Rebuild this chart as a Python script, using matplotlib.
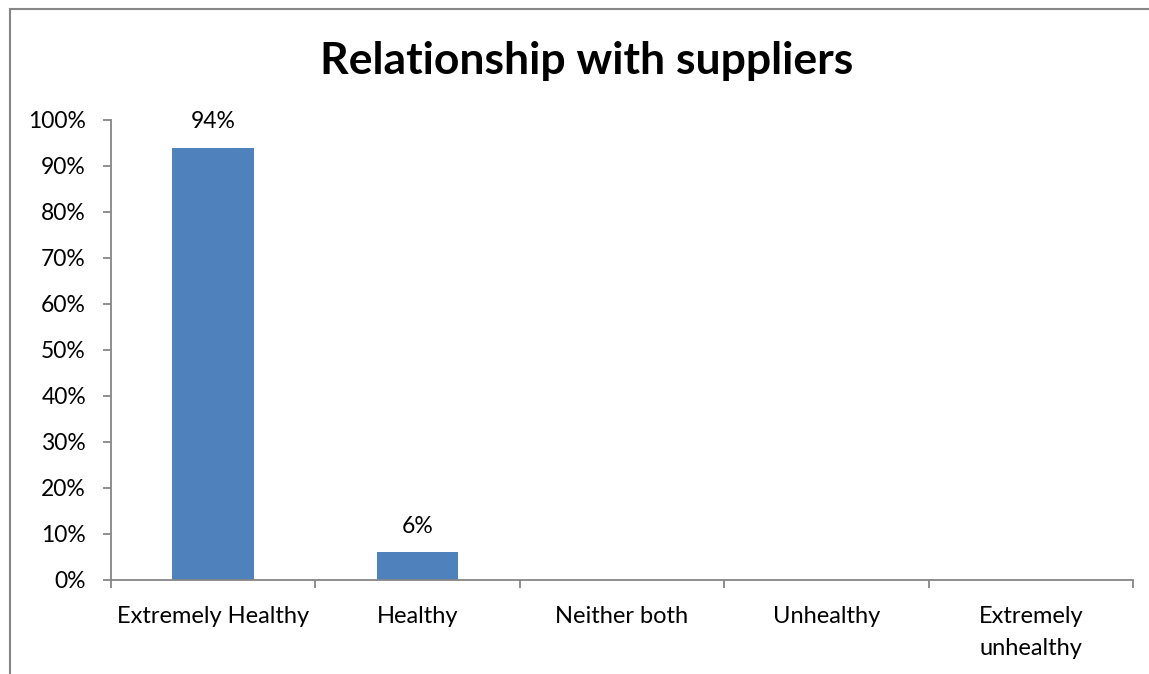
import numpy as np
import matplotlib.pyplot as plt
from matplotlib.lines import Line2D

categories = ["Extremely Healthy", "Healthy", "Neither both", "Unhealthy", "Extremely\nunhealthy"]
shares = [94, 6, 0, 0, 0]
labels = ["94%", "6%", None, None, None]

plt.rcParams['font.family'] = ['Lato', 'DejaVu Sans']
grey = '#868686'

fig = plt.figure(figsize=(11.49, 6.74), dpi=100)
ax = fig.add_axes([111/1149, 94/674, (1133-111)/1149, 460/674])

x = np.arange(len(categories))
ax.bar(x, shares, width=0.4, color='#4F81BD')
for xi, v, lab in zip(x, shares, labels):
    if lab:
        ax.annotate(lab, (xi, v), xytext=(0, 11), textcoords='offset points',
                    ha='center', va='bottom', fontsize=16.5)

ax.set_xlim(-0.5, len(categories) - 0.5)
ax.set_ylim(0, 100)
ax.set_yticks(np.arange(0, 101, 10))
ax.set_yticklabels([f"{t}%" for t in range(0, 101, 10)], fontsize=16.5)
ax.set_xticks(x)
ax.set_xticklabels(categories, fontsize=17, linespacing=1.65, va='top')
ax.set_xticks(np.arange(-0.5, len(categories)), minor=True)
ax.tick_params(axis='x', which='major', length=0, pad=19)
ax.tick_params(axis='x', which='minor', length=6, color=grey, width=1.3, direction='out')
ax.tick_params(axis='y', length=6, color=grey, width=1.3, pad=12)

for s in ['top', 'right']:
    ax.spines[s].set_visible(False)
for s in ['left', 'bottom']:
    ax.spines[s].set_color(grey)
    ax.spines[s].set_linewidth(1.3)

fig.text(587/1149, 1 - 61/674, "Relationship with suppliers", ha='center', va='center',
         fontsize=32, fontweight='bold')

# chart-area frame (left and top edges)
fig.add_artist(Line2D([10/1149, 10/1149], [0, 1 - 9/674], color=grey, lw=1.5, transform=fig.transFigure))
fig.add_artist(Line2D([10/1149, 1], [1 - 9/674, 1 - 9/674], color=grey, lw=1.5, transform=fig.transFigure))

fig.savefig('out.png', dpi=100)
